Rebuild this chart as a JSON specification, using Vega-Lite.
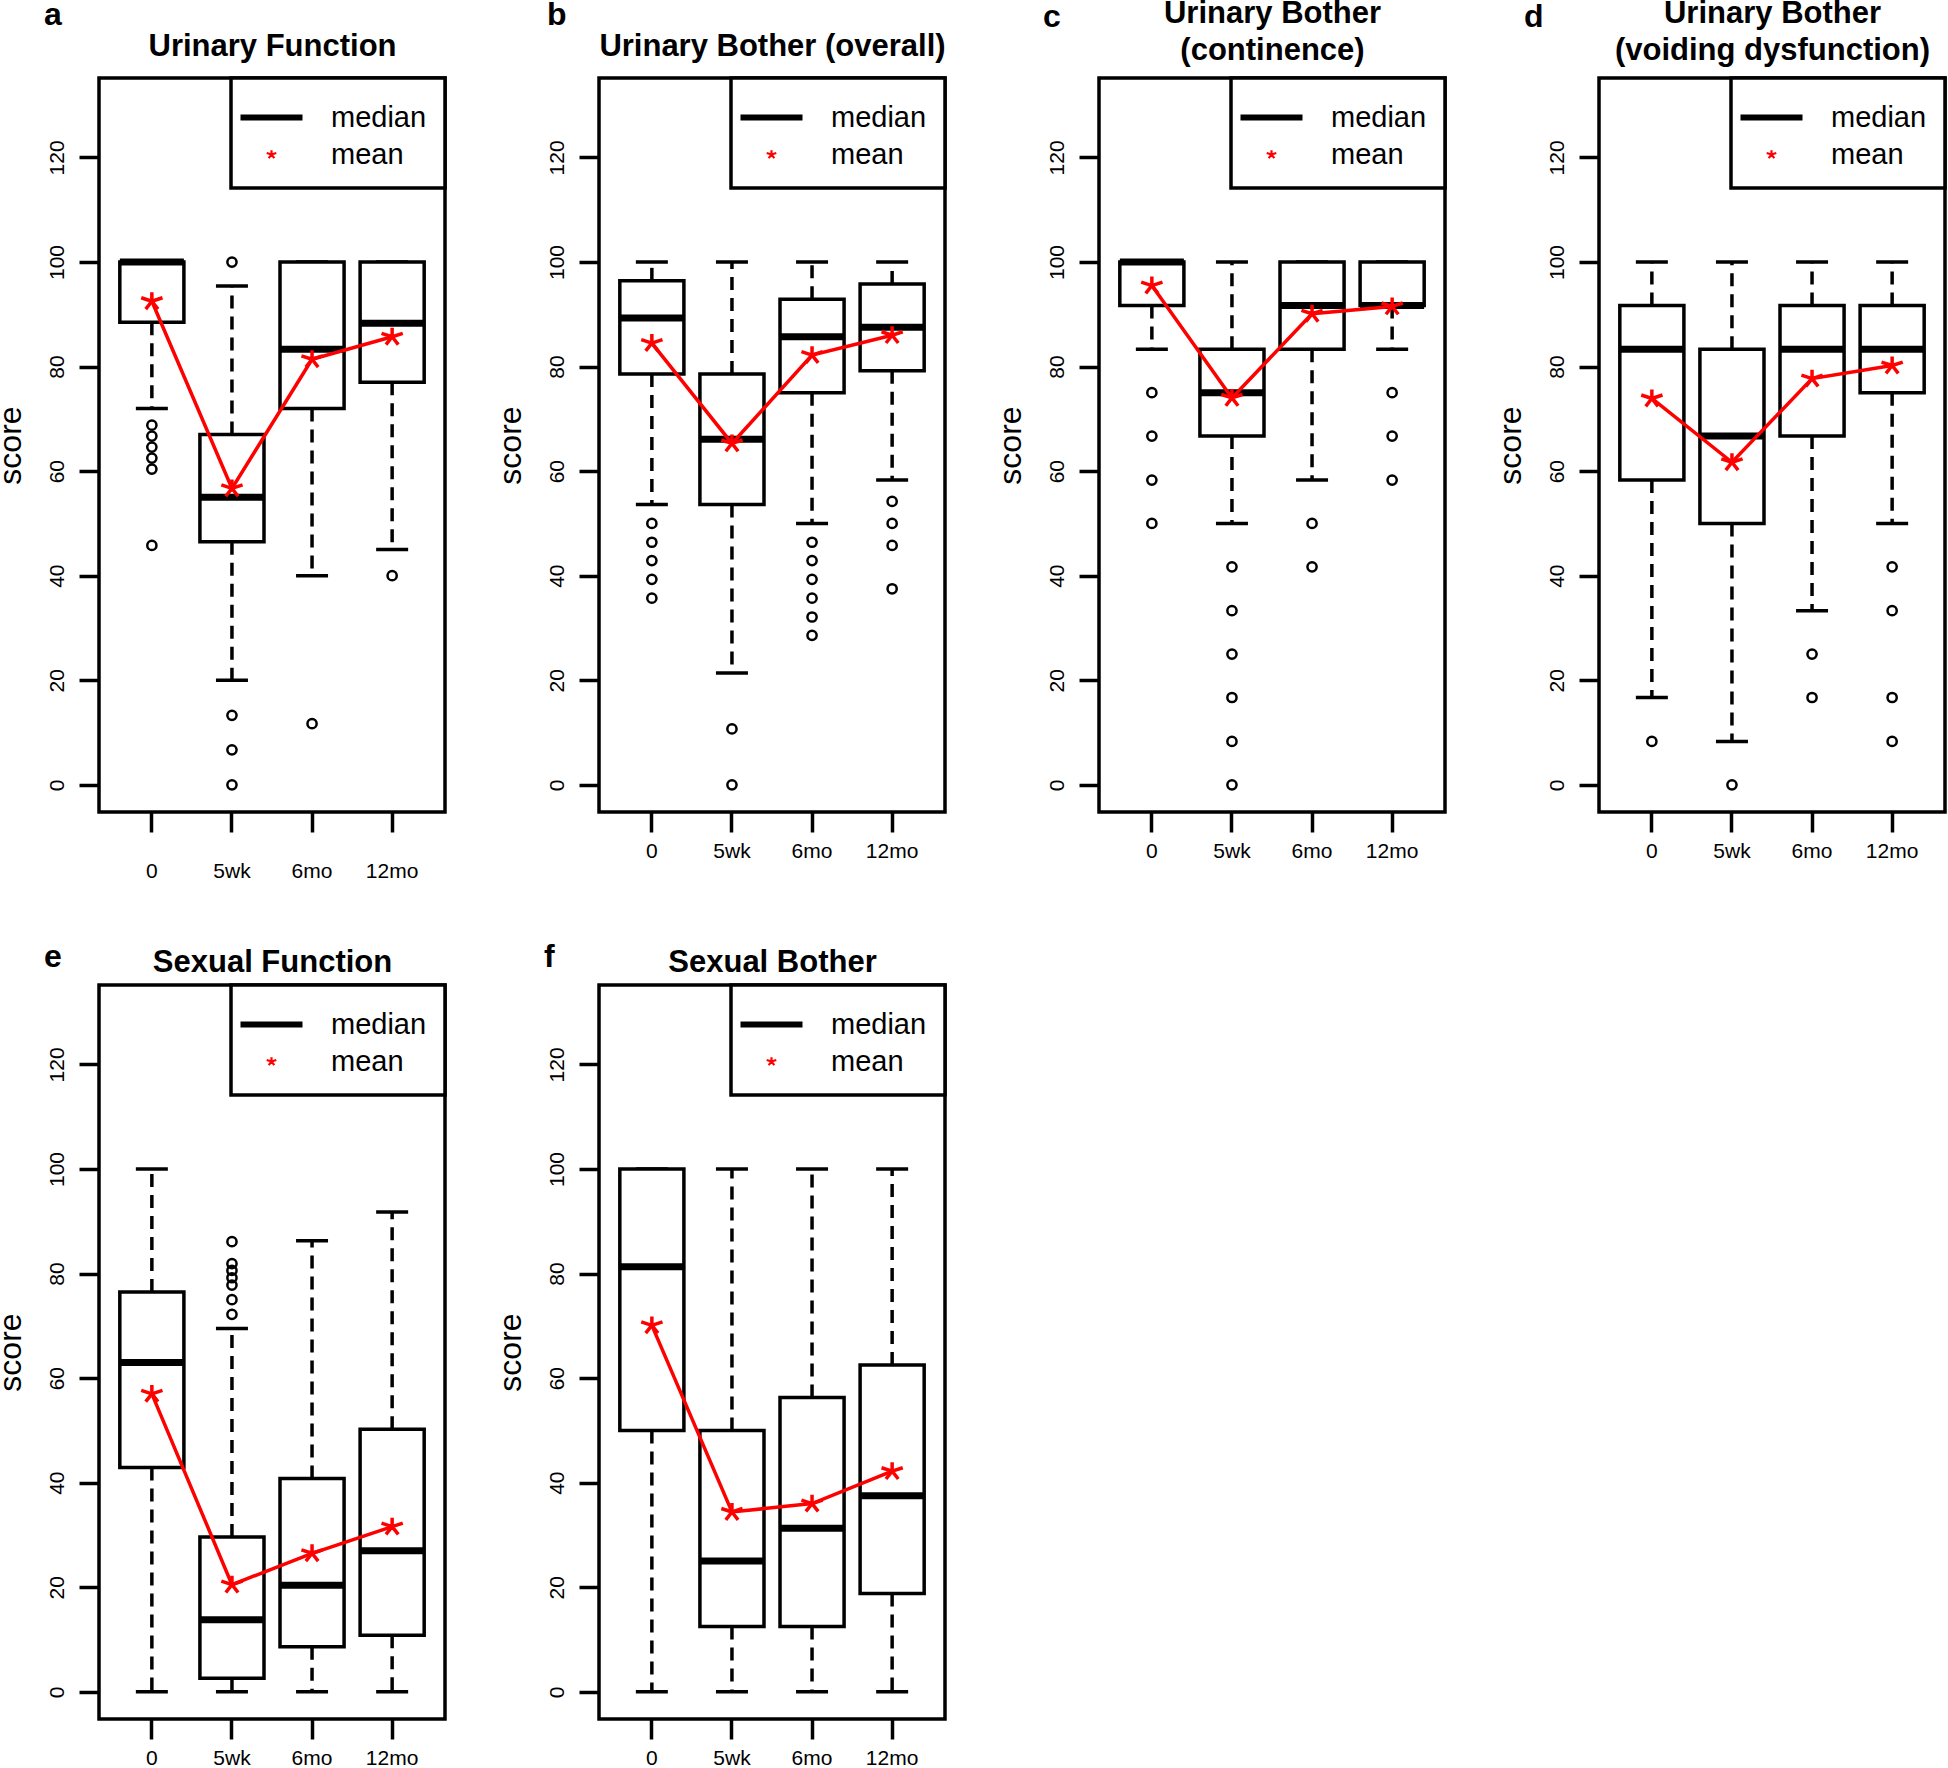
{
  "$schema": "https://vega.github.io/schema/vega-lite/v6.json",
  "background": "white",
  "padding": {"left": -8, "top": -5, "right": 0, "bottom": 0},
  "datasets": {
    "boxes": [
      {"panel": "a", "time": "0", "lo": 72, "q1": 88.5, "med": 100, "q3": 100, "hi": 100, "mean": 92.5},
      {"panel": "a", "time": "5wk", "lo": 20, "q1": 46.5, "med": 55, "q3": 67, "hi": 95.4, "mean": 56.7},
      {"panel": "a", "time": "6mo", "lo": 40, "q1": 72, "med": 83.3, "q3": 100, "hi": 100, "mean": 81.4},
      {"panel": "a", "time": "12mo", "lo": 45, "q1": 77, "med": 88.3, "q3": 100, "hi": 100, "mean": 85.7},
      {"panel": "b", "time": "0", "lo": 53.6, "q1": 78.6, "med": 89.3, "q3": 96.4, "hi": 100, "mean": 84.5},
      {"panel": "b", "time": "5wk", "lo": 21.4, "q1": 53.6, "med": 66.1, "q3": 78.6, "hi": 100, "mean": 65.3},
      {"panel": "b", "time": "6mo", "lo": 50, "q1": 75, "med": 85.7, "q3": 92.9, "hi": 100, "mean": 82.2},
      {"panel": "b", "time": "12mo", "lo": 58.3, "q1": 79.2, "med": 87.5, "q3": 95.8, "hi": 100, "mean": 86},
      {"panel": "c", "time": "0", "lo": 83.3, "q1": 91.7, "med": 100, "q3": 100, "hi": 100, "mean": 95.5},
      {"panel": "c", "time": "5wk", "lo": 50, "q1": 66.7, "med": 75, "q3": 83.3, "hi": 100, "mean": 74},
      {"panel": "c", "time": "6mo", "lo": 58.3, "q1": 83.3, "med": 91.7, "q3": 100, "hi": 100, "mean": 90.1},
      {"panel": "c", "time": "12mo", "lo": 83.3, "q1": 91.7, "med": 91.7, "q3": 100, "hi": 100, "mean": 91.5},
      {"panel": "d", "time": "0", "lo": 16.7, "q1": 58.3, "med": 83.3, "q3": 91.7, "hi": 100, "mean": 73.9},
      {"panel": "d", "time": "5wk", "lo": 8.3, "q1": 50, "med": 66.7, "q3": 83.3, "hi": 100, "mean": 61.7},
      {"panel": "d", "time": "6mo", "lo": 33.3, "q1": 66.7, "med": 83.3, "q3": 91.7, "hi": 100, "mean": 77.7},
      {"panel": "d", "time": "12mo", "lo": 50, "q1": 75, "med": 83.3, "q3": 91.7, "hi": 100, "mean": 80.2},
      {"panel": "e", "time": "0", "lo": 0, "q1": 42.9, "med": 63, "q3": 76.5, "hi": 100, "mean": 57},
      {"panel": "e", "time": "5wk", "lo": 0, "q1": 2.6, "med": 13.8, "q3": 29.6, "hi": 69.5, "mean": 20.5},
      {"panel": "e", "time": "6mo", "lo": 0, "q1": 8.6, "med": 20.4, "q3": 40.8, "hi": 86.3, "mean": 26.5},
      {"panel": "e", "time": "12mo", "lo": 0, "q1": 10.8, "med": 27, "q3": 50.2, "hi": 91.8, "mean": 31.6},
      {"panel": "f", "time": "0", "lo": 0, "q1": 50, "med": 81.3, "q3": 100, "hi": 100, "mean": 70.1},
      {"panel": "f", "time": "5wk", "lo": 0, "q1": 12.5, "med": 25, "q3": 50, "hi": 100, "mean": 34.4},
      {"panel": "f", "time": "6mo", "lo": 0, "q1": 12.5, "med": 31.3, "q3": 56.3, "hi": 100, "mean": 36},
      {"panel": "f", "time": "12mo", "lo": 0, "q1": 18.8, "med": 37.5, "q3": 62.5, "hi": 100, "mean": 42.2}
    ],
    "outliers": [
      {"panel": "a", "time": "0", "value": 68.8},
      {"panel": "a", "time": "0", "value": 66.7},
      {"panel": "a", "time": "0", "value": 64.6},
      {"panel": "a", "time": "0", "value": 62.5},
      {"panel": "a", "time": "0", "value": 60.4},
      {"panel": "a", "time": "0", "value": 45.8},
      {"panel": "a", "time": "5wk", "value": 100},
      {"panel": "a", "time": "5wk", "value": 13.3},
      {"panel": "a", "time": "5wk", "value": 6.7},
      {"panel": "a", "time": "5wk", "value": 0},
      {"panel": "a", "time": "6mo", "value": 11.7},
      {"panel": "a", "time": "12mo", "value": 40},
      {"panel": "b", "time": "0", "value": 50},
      {"panel": "b", "time": "0", "value": 46.4},
      {"panel": "b", "time": "0", "value": 42.9},
      {"panel": "b", "time": "0", "value": 39.3},
      {"panel": "b", "time": "0", "value": 35.7},
      {"panel": "b", "time": "5wk", "value": 10.7},
      {"panel": "b", "time": "5wk", "value": 0},
      {"panel": "b", "time": "6mo", "value": 46.4},
      {"panel": "b", "time": "6mo", "value": 42.9},
      {"panel": "b", "time": "6mo", "value": 39.3},
      {"panel": "b", "time": "6mo", "value": 35.7},
      {"panel": "b", "time": "6mo", "value": 32.1},
      {"panel": "b", "time": "6mo", "value": 28.6},
      {"panel": "b", "time": "12mo", "value": 54.2},
      {"panel": "b", "time": "12mo", "value": 50},
      {"panel": "b", "time": "12mo", "value": 45.8},
      {"panel": "b", "time": "12mo", "value": 37.5},
      {"panel": "c", "time": "0", "value": 75},
      {"panel": "c", "time": "0", "value": 66.7},
      {"panel": "c", "time": "0", "value": 58.3},
      {"panel": "c", "time": "0", "value": 50},
      {"panel": "c", "time": "5wk", "value": 41.7},
      {"panel": "c", "time": "5wk", "value": 33.3},
      {"panel": "c", "time": "5wk", "value": 25},
      {"panel": "c", "time": "5wk", "value": 16.7},
      {"panel": "c", "time": "5wk", "value": 8.3},
      {"panel": "c", "time": "5wk", "value": 0},
      {"panel": "c", "time": "6mo", "value": 50},
      {"panel": "c", "time": "6mo", "value": 41.7},
      {"panel": "c", "time": "12mo", "value": 75},
      {"panel": "c", "time": "12mo", "value": 66.7},
      {"panel": "c", "time": "12mo", "value": 58.3},
      {"panel": "d", "time": "0", "value": 8.3},
      {"panel": "d", "time": "5wk", "value": 0},
      {"panel": "d", "time": "6mo", "value": 25},
      {"panel": "d", "time": "6mo", "value": 16.7},
      {"panel": "d", "time": "12mo", "value": 41.7},
      {"panel": "d", "time": "12mo", "value": 33.3},
      {"panel": "d", "time": "12mo", "value": 16.7},
      {"panel": "d", "time": "12mo", "value": 8.3},
      {"panel": "e", "time": "5wk", "value": 86.1},
      {"panel": "e", "time": "5wk", "value": 81.9},
      {"panel": "e", "time": "5wk", "value": 80.6},
      {"panel": "e", "time": "5wk", "value": 79.2},
      {"panel": "e", "time": "5wk", "value": 77.8},
      {"panel": "e", "time": "5wk", "value": 75},
      {"panel": "e", "time": "5wk", "value": 72.2}
    ],
    "legendkeys": [
      {"stat": "median"},
      {"stat": "mean"}
    ]
  },
  "vconcat": [
    {
      "hconcat": [
        {
          "width": 346, "height": 734,
          "title": {"text": "a", "dx": -55, "dy": 5},
          "data": {"name": "boxes"},
          "transform": [{"filter": {"field": "panel", "equal": "a"}}],
          "encoding": {"x": {"field": "time", "type": "nominal", "scale": {"domain": ["0", "5wk", "6mo", "12mo"]}, "axis": null}},
          "layer": [
            {"mark": {"type": "rule", "strokeDash": [13, 8], "strokeWidth": 3.5, "color": "black"},
             "encoding": {
               "x": {"field": "time", "type": "nominal", "scale": {"domain": ["0", "5wk", "6mo", "12mo"]}, "axis": {"orient": "bottom", "title": null, "labelPadding": 28}},
               "y": {"field": "q1", "type": "quantitative", "scale": {"domain": [-5.2, 135.2], "nice": false, "zero": false}, "axis": {"values": [0, 20, 40, 60, 80, 100, 120], "title": "score"}},
               "y2": {"field": "lo"}}},
            {"mark": {"type": "rule", "strokeDash": [13, 8], "strokeWidth": 3.5, "color": "black"},
             "encoding": {"y": {"field": "q3", "type": "quantitative", "axis": null}, "y2": {"field": "hi"}}},
            {"mark": {"type": "tick", "size": 32, "thickness": 3.5, "color": "black", "opacity": 1},
             "encoding": {"y": {"field": "lo", "type": "quantitative", "axis": null}}},
            {"mark": {"type": "tick", "size": 32, "thickness": 3.5, "color": "black", "opacity": 1},
             "encoding": {"y": {"field": "hi", "type": "quantitative", "axis": null}}},
            {"mark": {"type": "bar", "fill": "white", "stroke": "black", "strokeWidth": 3.5},
             "encoding": {"y": {"field": "q1", "type": "quantitative", "axis": null}, "y2": {"field": "q3"}}},
            {"mark": {"type": "tick", "size": 64, "thickness": 7, "color": "black", "opacity": 1},
             "encoding": {"y": {"field": "med", "type": "quantitative", "axis": null}}},
            {"data": {"name": "outliers"}, "transform": [{"filter": {"field": "panel", "equal": "a"}}],
             "mark": {"type": "point", "shape": "circle", "filled": false, "color": "black", "strokeWidth": 2.5, "size": 85, "opacity": 1},
             "encoding": {"y": {"field": "value", "type": "quantitative", "axis": null}}},
            {"mark": {"type": "line", "color": "red", "strokeWidth": 3.5},
             "encoding": {
               "x": {"field": "time", "type": "nominal", "sort": ["0", "5wk", "6mo", "12mo"], "scale": {"domain": ["0", "5wk", "6mo", "12mo"]}, "axis": {"orient": "top", "title": "Urinary Function", "labels": false, "ticks": false, "titlePadding": 15.5}},
               "y": {"field": "mean", "type": "quantitative", "axis": null}}},
            {"mark": {"type": "point", "shape": "M0,0L0,-0.8M0,0L0.951,-0.309M0,0L0.55,0.7M0,0L-0.55,0.7M0,0L-0.951,-0.309", "filled": false, "color": "red", "strokeWidth": 3.5, "size": 500, "opacity": 1},
             "encoding": {"y": {"field": "mean", "type": "quantitative", "axis": null}}},
            {"data": {"name": "legendkeys"},
             "mark": {"type": "point", "filled": false, "opacity": 0, "strokeWidth": 2.2},
             "encoding": {
               "shape": {"field": "stat", "type": "nominal", "scale": {"domain": ["median", "mean"], "range": ["M-1.55,-0.1H1.55M-1.55,-0.05H1.55M-1.55,0H1.55M-1.55,0.05H1.55M-1.55,0.1H1.55", "M0,0L0,-0.21M0,0L0.24,-0.078M0,0L0.14,0.18M0,0L-0.14,0.18M0,0L-0.24,-0.078"]}, "legend": {"title": null}},
               "color": {"field": "stat", "type": "nominal", "scale": {"domain": ["median", "mean"], "range": ["black", "red"]}, "legend": {"title": null}}}}
          ],
          "resolve": {"axis": {"x": "independent", "y": "independent"}}
        },
        {
          "width": 346, "height": 734,
          "title": {"text": "b", "dx": -52, "dy": 5},
          "data": {"name": "boxes"},
          "transform": [{"filter": {"field": "panel", "equal": "b"}}],
          "encoding": {"x": {"field": "time", "type": "nominal", "scale": {"domain": ["0", "5wk", "6mo", "12mo"]}, "axis": null}},
          "layer": [
            {"mark": {"type": "rule", "strokeDash": [13, 8], "strokeWidth": 3.5, "color": "black"},
             "encoding": {
               "x": {"field": "time", "type": "nominal", "scale": {"domain": ["0", "5wk", "6mo", "12mo"]}, "axis": {"orient": "bottom", "title": null, "labelPadding": 8}},
               "y": {"field": "q1", "type": "quantitative", "scale": {"domain": [-5.2, 135.2], "nice": false, "zero": false}, "axis": {"values": [0, 20, 40, 60, 80, 100, 120], "title": "score"}},
               "y2": {"field": "lo"}}},
            {"mark": {"type": "rule", "strokeDash": [13, 8], "strokeWidth": 3.5, "color": "black"},
             "encoding": {"y": {"field": "q3", "type": "quantitative", "axis": null}, "y2": {"field": "hi"}}},
            {"mark": {"type": "tick", "size": 32, "thickness": 3.5, "color": "black", "opacity": 1},
             "encoding": {"y": {"field": "lo", "type": "quantitative", "axis": null}}},
            {"mark": {"type": "tick", "size": 32, "thickness": 3.5, "color": "black", "opacity": 1},
             "encoding": {"y": {"field": "hi", "type": "quantitative", "axis": null}}},
            {"mark": {"type": "bar", "fill": "white", "stroke": "black", "strokeWidth": 3.5},
             "encoding": {"y": {"field": "q1", "type": "quantitative", "axis": null}, "y2": {"field": "q3"}}},
            {"mark": {"type": "tick", "size": 64, "thickness": 7, "color": "black", "opacity": 1},
             "encoding": {"y": {"field": "med", "type": "quantitative", "axis": null}}},
            {"data": {"name": "outliers"}, "transform": [{"filter": {"field": "panel", "equal": "b"}}],
             "mark": {"type": "point", "shape": "circle", "filled": false, "color": "black", "strokeWidth": 2.5, "size": 85, "opacity": 1},
             "encoding": {"y": {"field": "value", "type": "quantitative", "axis": null}}},
            {"mark": {"type": "line", "color": "red", "strokeWidth": 3.5},
             "encoding": {
               "x": {"field": "time", "type": "nominal", "sort": ["0", "5wk", "6mo", "12mo"], "scale": {"domain": ["0", "5wk", "6mo", "12mo"]}, "axis": {"orient": "top", "title": "Urinary Bother (overall)", "labels": false, "ticks": false, "titlePadding": 15.5}},
               "y": {"field": "mean", "type": "quantitative", "axis": null}}},
            {"mark": {"type": "point", "shape": "M0,0L0,-0.8M0,0L0.951,-0.309M0,0L0.55,0.7M0,0L-0.55,0.7M0,0L-0.951,-0.309", "filled": false, "color": "red", "strokeWidth": 3.5, "size": 500, "opacity": 1},
             "encoding": {"y": {"field": "mean", "type": "quantitative", "axis": null}}},
            {"data": {"name": "legendkeys"},
             "mark": {"type": "point", "filled": false, "opacity": 0, "strokeWidth": 2.2},
             "encoding": {
               "shape": {"field": "stat", "type": "nominal", "scale": {"domain": ["median", "mean"], "range": ["M-1.55,-0.1H1.55M-1.55,-0.05H1.55M-1.55,0H1.55M-1.55,0.05H1.55M-1.55,0.1H1.55", "M0,0L0,-0.21M0,0L0.24,-0.078M0,0L0.14,0.18M0,0L-0.14,0.18M0,0L-0.24,-0.078"]}, "legend": {"title": null}},
               "color": {"field": "stat", "type": "nominal", "scale": {"domain": ["median", "mean"], "range": ["black", "red"]}, "legend": {"title": null}}}}
          ],
          "resolve": {"axis": {"x": "independent", "y": "independent"}}
        },
        {
          "width": 346, "height": 734,
          "title": {"text": "c", "dx": -56, "dy": 40.5},
          "data": {"name": "boxes"},
          "transform": [{"filter": {"field": "panel", "equal": "c"}}],
          "encoding": {"x": {"field": "time", "type": "nominal", "scale": {"domain": ["0", "5wk", "6mo", "12mo"]}, "axis": null}},
          "layer": [
            {"mark": {"type": "rule", "strokeDash": [13, 8], "strokeWidth": 3.5, "color": "black"},
             "encoding": {
               "x": {"field": "time", "type": "nominal", "scale": {"domain": ["0", "5wk", "6mo", "12mo"]}, "axis": {"orient": "bottom", "title": null, "labelPadding": 8}},
               "y": {"field": "q1", "type": "quantitative", "scale": {"domain": [-5.2, 135.2], "nice": false, "zero": false}, "axis": {"values": [0, 20, 40, 60, 80, 100, 120], "title": "score"}},
               "y2": {"field": "lo"}}},
            {"mark": {"type": "rule", "strokeDash": [13, 8], "strokeWidth": 3.5, "color": "black"},
             "encoding": {"y": {"field": "q3", "type": "quantitative", "axis": null}, "y2": {"field": "hi"}}},
            {"mark": {"type": "tick", "size": 32, "thickness": 3.5, "color": "black", "opacity": 1},
             "encoding": {"y": {"field": "lo", "type": "quantitative", "axis": null}}},
            {"mark": {"type": "tick", "size": 32, "thickness": 3.5, "color": "black", "opacity": 1},
             "encoding": {"y": {"field": "hi", "type": "quantitative", "axis": null}}},
            {"mark": {"type": "bar", "fill": "white", "stroke": "black", "strokeWidth": 3.5},
             "encoding": {"y": {"field": "q1", "type": "quantitative", "axis": null}, "y2": {"field": "q3"}}},
            {"mark": {"type": "tick", "size": 64, "thickness": 7, "color": "black", "opacity": 1},
             "encoding": {"y": {"field": "med", "type": "quantitative", "axis": null}}},
            {"data": {"name": "outliers"}, "transform": [{"filter": {"field": "panel", "equal": "c"}}],
             "mark": {"type": "point", "shape": "circle", "filled": false, "color": "black", "strokeWidth": 2.5, "size": 85, "opacity": 1},
             "encoding": {"y": {"field": "value", "type": "quantitative", "axis": null}}},
            {"mark": {"type": "line", "color": "red", "strokeWidth": 3.5},
             "encoding": {
               "x": {"field": "time", "type": "nominal", "sort": ["0", "5wk", "6mo", "12mo"], "scale": {"domain": ["0", "5wk", "6mo", "12mo"]}, "axis": {"orient": "top", "title": ["Urinary Bother", "(continence)"], "labels": false, "ticks": false, "titlePadding": 12}},
               "y": {"field": "mean", "type": "quantitative", "axis": null}}},
            {"mark": {"type": "point", "shape": "M0,0L0,-0.8M0,0L0.951,-0.309M0,0L0.55,0.7M0,0L-0.55,0.7M0,0L-0.951,-0.309", "filled": false, "color": "red", "strokeWidth": 3.5, "size": 500, "opacity": 1},
             "encoding": {"y": {"field": "mean", "type": "quantitative", "axis": null}}},
            {"data": {"name": "legendkeys"},
             "mark": {"type": "point", "filled": false, "opacity": 0, "strokeWidth": 2.2},
             "encoding": {
               "shape": {"field": "stat", "type": "nominal", "scale": {"domain": ["median", "mean"], "range": ["M-1.55,-0.1H1.55M-1.55,-0.05H1.55M-1.55,0H1.55M-1.55,0.05H1.55M-1.55,0.1H1.55", "M0,0L0,-0.21M0,0L0.24,-0.078M0,0L0.14,0.18M0,0L-0.14,0.18M0,0L-0.24,-0.078"]}, "legend": {"title": null}},
               "color": {"field": "stat", "type": "nominal", "scale": {"domain": ["median", "mean"], "range": ["black", "red"]}, "legend": {"title": null}}}}
          ],
          "resolve": {"axis": {"x": "independent", "y": "independent"}}
        },
        {
          "width": 346, "height": 734,
          "title": {"text": "d", "dx": -75, "dy": 40.5},
          "data": {"name": "boxes"},
          "transform": [{"filter": {"field": "panel", "equal": "d"}}],
          "encoding": {"x": {"field": "time", "type": "nominal", "scale": {"domain": ["0", "5wk", "6mo", "12mo"]}, "axis": null}},
          "layer": [
            {"mark": {"type": "rule", "strokeDash": [13, 8], "strokeWidth": 3.5, "color": "black"},
             "encoding": {
               "x": {"field": "time", "type": "nominal", "scale": {"domain": ["0", "5wk", "6mo", "12mo"]}, "axis": {"orient": "bottom", "title": null, "labelPadding": 8}},
               "y": {"field": "q1", "type": "quantitative", "scale": {"domain": [-5.2, 135.2], "nice": false, "zero": false}, "axis": {"values": [0, 20, 40, 60, 80, 100, 120], "title": "score"}},
               "y2": {"field": "lo"}}},
            {"mark": {"type": "rule", "strokeDash": [13, 8], "strokeWidth": 3.5, "color": "black"},
             "encoding": {"y": {"field": "q3", "type": "quantitative", "axis": null}, "y2": {"field": "hi"}}},
            {"mark": {"type": "tick", "size": 32, "thickness": 3.5, "color": "black", "opacity": 1},
             "encoding": {"y": {"field": "lo", "type": "quantitative", "axis": null}}},
            {"mark": {"type": "tick", "size": 32, "thickness": 3.5, "color": "black", "opacity": 1},
             "encoding": {"y": {"field": "hi", "type": "quantitative", "axis": null}}},
            {"mark": {"type": "bar", "fill": "white", "stroke": "black", "strokeWidth": 3.5},
             "encoding": {"y": {"field": "q1", "type": "quantitative", "axis": null}, "y2": {"field": "q3"}}},
            {"mark": {"type": "tick", "size": 64, "thickness": 7, "color": "black", "opacity": 1},
             "encoding": {"y": {"field": "med", "type": "quantitative", "axis": null}}},
            {"data": {"name": "outliers"}, "transform": [{"filter": {"field": "panel", "equal": "d"}}],
             "mark": {"type": "point", "shape": "circle", "filled": false, "color": "black", "strokeWidth": 2.5, "size": 85, "opacity": 1},
             "encoding": {"y": {"field": "value", "type": "quantitative", "axis": null}}},
            {"mark": {"type": "line", "color": "red", "strokeWidth": 3.5},
             "encoding": {
               "x": {"field": "time", "type": "nominal", "sort": ["0", "5wk", "6mo", "12mo"], "scale": {"domain": ["0", "5wk", "6mo", "12mo"]}, "axis": {"orient": "top", "title": ["Urinary Bother", "(voiding dysfunction)"], "labels": false, "ticks": false, "titlePadding": 12}},
               "y": {"field": "mean", "type": "quantitative", "axis": null}}},
            {"mark": {"type": "point", "shape": "M0,0L0,-0.8M0,0L0.951,-0.309M0,0L0.55,0.7M0,0L-0.55,0.7M0,0L-0.951,-0.309", "filled": false, "color": "red", "strokeWidth": 3.5, "size": 500, "opacity": 1},
             "encoding": {"y": {"field": "mean", "type": "quantitative", "axis": null}}},
            {"data": {"name": "legendkeys"},
             "mark": {"type": "point", "filled": false, "opacity": 0, "strokeWidth": 2.2},
             "encoding": {
               "shape": {"field": "stat", "type": "nominal", "scale": {"domain": ["median", "mean"], "range": ["M-1.55,-0.1H1.55M-1.55,-0.05H1.55M-1.55,0H1.55M-1.55,0.05H1.55M-1.55,0.1H1.55", "M0,0L0,-0.21M0,0L0.24,-0.078M0,0L0.14,0.18M0,0L-0.14,0.18M0,0L-0.24,-0.078"]}, "legend": {"title": null}},
               "color": {"field": "stat", "type": "nominal", "scale": {"domain": ["median", "mean"], "range": ["black", "red"]}, "legend": {"title": null}}}}
          ],
          "resolve": {"axis": {"x": "independent", "y": "independent"}}
        }
      ],
      "spacing": 43,
      "resolve": {"scale": {"color": "independent", "shape": "independent"}, "legend": {"color": "independent", "shape": "independent"}}
    },
    {
      "hconcat": [
        {
          "width": 346, "height": 734,
          "title": {"text": "e", "dx": -55, "dy": 31.5},
          "data": {"name": "boxes"},
          "transform": [{"filter": {"field": "panel", "equal": "e"}}],
          "encoding": {"x": {"field": "time", "type": "nominal", "scale": {"domain": ["0", "5wk", "6mo", "12mo"]}, "axis": null}},
          "layer": [
            {"mark": {"type": "rule", "strokeDash": [13, 8], "strokeWidth": 3.5, "color": "black"},
             "encoding": {
               "x": {"field": "time", "type": "nominal", "scale": {"domain": ["0", "5wk", "6mo", "12mo"]}, "axis": {"orient": "bottom", "title": null, "labelPadding": 8}},
               "y": {"field": "q1", "type": "quantitative", "scale": {"domain": [-5.2, 135.2], "nice": false, "zero": false}, "axis": {"values": [0, 20, 40, 60, 80, 100, 120], "title": "score"}},
               "y2": {"field": "lo"}}},
            {"mark": {"type": "rule", "strokeDash": [13, 8], "strokeWidth": 3.5, "color": "black"},
             "encoding": {"y": {"field": "q3", "type": "quantitative", "axis": null}, "y2": {"field": "hi"}}},
            {"mark": {"type": "tick", "size": 32, "thickness": 3.5, "color": "black", "opacity": 1},
             "encoding": {"y": {"field": "lo", "type": "quantitative", "axis": null}}},
            {"mark": {"type": "tick", "size": 32, "thickness": 3.5, "color": "black", "opacity": 1},
             "encoding": {"y": {"field": "hi", "type": "quantitative", "axis": null}}},
            {"mark": {"type": "bar", "fill": "white", "stroke": "black", "strokeWidth": 3.5},
             "encoding": {"y": {"field": "q1", "type": "quantitative", "axis": null}, "y2": {"field": "q3"}}},
            {"mark": {"type": "tick", "size": 64, "thickness": 7, "color": "black", "opacity": 1},
             "encoding": {"y": {"field": "med", "type": "quantitative", "axis": null}}},
            {"data": {"name": "outliers"}, "transform": [{"filter": {"field": "panel", "equal": "e"}}],
             "mark": {"type": "point", "shape": "circle", "filled": false, "color": "black", "strokeWidth": 2.5, "size": 85, "opacity": 1},
             "encoding": {"y": {"field": "value", "type": "quantitative", "axis": null}}},
            {"mark": {"type": "line", "color": "red", "strokeWidth": 3.5},
             "encoding": {
               "x": {"field": "time", "type": "nominal", "sort": ["0", "5wk", "6mo", "12mo"], "scale": {"domain": ["0", "5wk", "6mo", "12mo"]}, "axis": {"orient": "top", "title": "Sexual Function", "labels": false, "ticks": false, "titlePadding": 6.5}},
               "y": {"field": "mean", "type": "quantitative", "axis": null}}},
            {"mark": {"type": "point", "shape": "M0,0L0,-0.8M0,0L0.951,-0.309M0,0L0.55,0.7M0,0L-0.55,0.7M0,0L-0.951,-0.309", "filled": false, "color": "red", "strokeWidth": 3.5, "size": 500, "opacity": 1},
             "encoding": {"y": {"field": "mean", "type": "quantitative", "axis": null}}},
            {"data": {"name": "legendkeys"},
             "mark": {"type": "point", "filled": false, "opacity": 0, "strokeWidth": 2.2},
             "encoding": {
               "shape": {"field": "stat", "type": "nominal", "scale": {"domain": ["median", "mean"], "range": ["M-1.55,-0.1H1.55M-1.55,-0.05H1.55M-1.55,0H1.55M-1.55,0.05H1.55M-1.55,0.1H1.55", "M0,0L0,-0.21M0,0L0.24,-0.078M0,0L0.14,0.18M0,0L-0.14,0.18M0,0L-0.24,-0.078"]}, "legend": {"title": null}},
               "color": {"field": "stat", "type": "nominal", "scale": {"domain": ["median", "mean"], "range": ["black", "red"]}, "legend": {"title": null}}}}
          ],
          "resolve": {"axis": {"x": "independent", "y": "independent"}}
        },
        {
          "width": 346, "height": 734,
          "title": {"text": "f", "dx": -55, "dy": 31.5},
          "data": {"name": "boxes"},
          "transform": [{"filter": {"field": "panel", "equal": "f"}}],
          "encoding": {"x": {"field": "time", "type": "nominal", "scale": {"domain": ["0", "5wk", "6mo", "12mo"]}, "axis": null}},
          "layer": [
            {"mark": {"type": "rule", "strokeDash": [13, 8], "strokeWidth": 3.5, "color": "black"},
             "encoding": {
               "x": {"field": "time", "type": "nominal", "scale": {"domain": ["0", "5wk", "6mo", "12mo"]}, "axis": {"orient": "bottom", "title": null, "labelPadding": 8}},
               "y": {"field": "q1", "type": "quantitative", "scale": {"domain": [-5.2, 135.2], "nice": false, "zero": false}, "axis": {"values": [0, 20, 40, 60, 80, 100, 120], "title": "score"}},
               "y2": {"field": "lo"}}},
            {"mark": {"type": "rule", "strokeDash": [13, 8], "strokeWidth": 3.5, "color": "black"},
             "encoding": {"y": {"field": "q3", "type": "quantitative", "axis": null}, "y2": {"field": "hi"}}},
            {"mark": {"type": "tick", "size": 32, "thickness": 3.5, "color": "black", "opacity": 1},
             "encoding": {"y": {"field": "lo", "type": "quantitative", "axis": null}}},
            {"mark": {"type": "tick", "size": 32, "thickness": 3.5, "color": "black", "opacity": 1},
             "encoding": {"y": {"field": "hi", "type": "quantitative", "axis": null}}},
            {"mark": {"type": "bar", "fill": "white", "stroke": "black", "strokeWidth": 3.5},
             "encoding": {"y": {"field": "q1", "type": "quantitative", "axis": null}, "y2": {"field": "q3"}}},
            {"mark": {"type": "tick", "size": 64, "thickness": 7, "color": "black", "opacity": 1},
             "encoding": {"y": {"field": "med", "type": "quantitative", "axis": null}}},
            {"mark": {"type": "line", "color": "red", "strokeWidth": 3.5},
             "encoding": {
               "x": {"field": "time", "type": "nominal", "sort": ["0", "5wk", "6mo", "12mo"], "scale": {"domain": ["0", "5wk", "6mo", "12mo"]}, "axis": {"orient": "top", "title": "Sexual Bother", "labels": false, "ticks": false, "titlePadding": 6.5}},
               "y": {"field": "mean", "type": "quantitative", "axis": null}}},
            {"mark": {"type": "point", "shape": "M0,0L0,-0.8M0,0L0.951,-0.309M0,0L0.55,0.7M0,0L-0.55,0.7M0,0L-0.951,-0.309", "filled": false, "color": "red", "strokeWidth": 3.5, "size": 500, "opacity": 1},
             "encoding": {"y": {"field": "mean", "type": "quantitative", "axis": null}}},
            {"data": {"name": "legendkeys"},
             "mark": {"type": "point", "filled": false, "opacity": 0, "strokeWidth": 2.2},
             "encoding": {
               "shape": {"field": "stat", "type": "nominal", "scale": {"domain": ["median", "mean"], "range": ["M-1.55,-0.1H1.55M-1.55,-0.05H1.55M-1.55,0H1.55M-1.55,0.05H1.55M-1.55,0.1H1.55", "M0,0L0,-0.21M0,0L0.24,-0.078M0,0L0.14,0.18M0,0L-0.14,0.18M0,0L-0.24,-0.078"]}, "legend": {"title": null}},
               "color": {"field": "stat", "type": "nominal", "scale": {"domain": ["median", "mean"], "range": ["black", "red"]}, "legend": {"title": null}}}}
          ],
          "resolve": {"axis": {"x": "independent", "y": "independent"}}
        }
      ],
      "spacing": 43,
      "resolve": {"scale": {"color": "independent", "shape": "independent"}, "legend": {"color": "independent", "shape": "independent"}}
    }
  ],
  "spacing": 56,
  "resolve": {"scale": {"color": "independent", "shape": "independent"}, "legend": {"color": "independent", "shape": "independent"}},
  "config": {
    "font": "Liberation Sans",
    "view": {"stroke": "black", "strokeWidth": 3.5},
    "scale": {"bandPaddingInner": 0.2, "bandPaddingOuter": 0.26},
    "axis": {
      "domain": false, "grid": false,
      "tickColor": "black", "tickWidth": 3.5, "tickSize": 20,
      "labelColor": "black", "labelFont": "Liberation Sans", "labelFontSize": 21,
      "titleColor": "black", "titleFont": "Liberation Sans", "titleFontWeight": "normal", "titleFontSize": 32
    },
    "axisLeft": {"labelAngle": -90, "labelPadding": 12, "titlePadding": 19},
    "axisBottom": {"labelAngle": 0},
    "axisTop": {"titleFontWeight": "bold", "titleFontSize": 31, "titleLineHeight": 37, "titleBaseline": "bottom"},
    "title": {"anchor": "start", "frame": "group", "font": "Liberation Sans", "fontSize": 32, "fontWeight": "bold", "color": "black", "baseline": "alphabetic", "offset": 4},
    "legend": {
      "orient": "top-right", "offset": 0, "padding": 18,
      "strokeColor": "black", "strokeWidth": 3.5, "fillColor": "white", "cornerRadius": 0,
      "rowPadding": 0, "symbolSize": 1600, "symbolStrokeWidth": 2.2, "symbolOpacity": 1, "symbolOffset": 1,
      "labelOffset": 38, "labelFont": "Liberation Sans", "labelFontSize": 29, "labelColor": "black", "labelLimit": 0
    }
  }
}
